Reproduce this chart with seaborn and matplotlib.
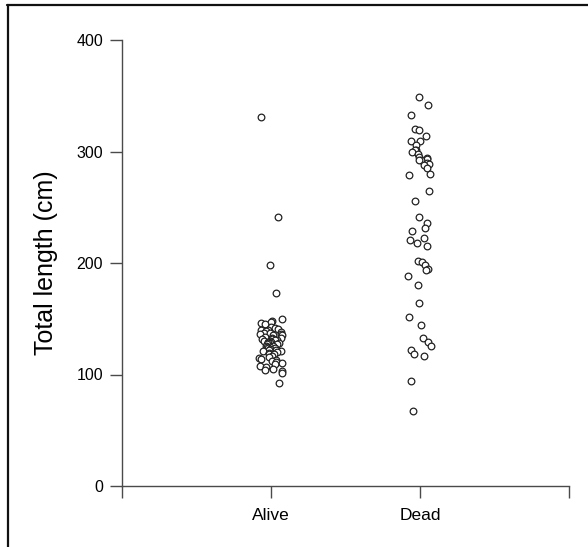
import numpy as np
import pandas as pd
import seaborn as sns
import matplotlib.pyplot as plt
from matplotlib.lines import Line2D

groups = ["Alive", "Dead"]
alive = [331, 241, 198, 173, 150, 148, 147, 146, 145, 143, 142, 141, 140, 140,
         139, 138, 137, 137, 136, 136, 135, 135, 134, 133, 133, 132, 132, 131,
         131, 130, 130, 129, 129, 128, 128, 128, 127, 127, 126, 126, 125, 125,
         124, 124, 123, 122, 122, 121, 121, 120, 119, 118, 118, 117, 116, 115,
         114, 113, 112, 111, 110, 109, 108, 107, 105, 104, 103, 101, 92]
dead = [349, 342, 333, 320, 319, 314, 309, 309, 306, 301, 301, 300, 298, 295,
        294, 293, 292, 292, 290, 289, 288, 285, 280, 279, 265, 256, 241, 236,
        231, 229, 222, 221, 218, 215, 202, 201, 198, 195, 194, 188, 180, 164,
        152, 144, 133, 129, 126, 122, 118, 117, 94, 67]
y_ticks = [0, 100, 200, 300, 400]

df = pd.DataFrame({
    "status": ["Alive"] * len(alive) + ["Dead"] * len(dead),
    "length": alive + dead,
})

sns.set_theme(style="ticks")
plt.rcParams['font.family'] = ['Liberation Sans', 'DejaVu Sans']

fig = plt.figure(figsize=(5.88, 5.47), dpi=100)
ax = fig.add_axes([122 / 588, 1 - 486 / 547, (569 - 122) / 588, (486 - 40) / 547])

np.random.seed(7)
sns.stripplot(data=df, x="status", y="length", order=groups, jitter=0.08,
              color="white", edgecolor="#222222", linewidth=0.9, size=4.8, ax=ax)

axis_col = "#4a4a4a"
ax.set_xlim(-1, 2)
ax.set_ylim(0, 400)
ax.set_xticks([-1, 0, 1, 2])
ax.set_xticklabels(["", "Alive", "Dead", ""], fontsize=12.5, color="black")
ax.set_yticks(y_ticks)
ax.set_yticklabels([str(v) for v in y_ticks], fontsize=11.5, color="black")
ax.set_xlabel("")
ax.set_ylabel("Total length (cm)", fontsize=18, color="black", labelpad=13)

for s in ["top", "right"]:
    ax.spines[s].set_visible(False)
for s in ["left", "bottom"]:
    ax.spines[s].set_color(axis_col)
    ax.spines[s].set_linewidth(1.0)
ax.tick_params(axis="both", direction="out", length=8.6, width=1.0, color=axis_col)
ax.tick_params(axis="x", pad=7)
ax.tick_params(axis="y", pad=5)

fig.add_artist(Line2D([7 / 588, 1], [1 - 5 / 547, 1 - 5 / 547],
                      transform=fig.transFigure, color="#111111", lw=1.6))
fig.add_artist(Line2D([8 / 588, 8 / 588], [0, 1 - 5 / 547],
                      transform=fig.transFigure, color="#111111", lw=1.6))

fig.savefig("out.png", dpi=100, facecolor="white")
